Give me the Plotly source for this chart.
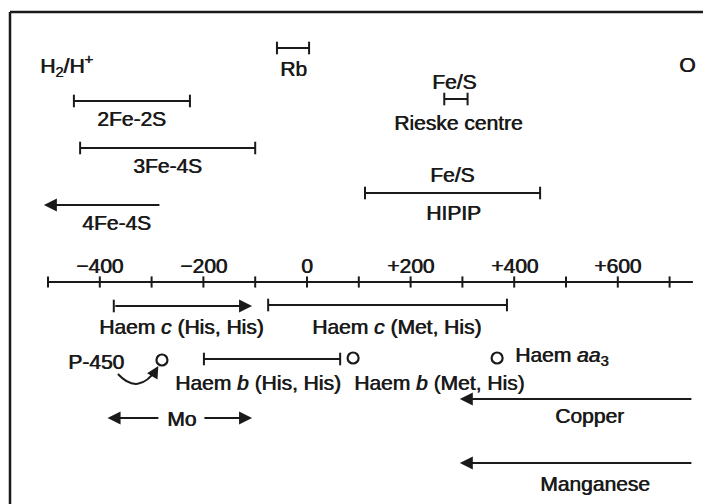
import plotly.graph_objects as go

# ---------------- data (mV) ----------------
tick_values = [-500, -400, -300, -200, -100, 0, 100, 200, 300, 400, 500, 600, 700]
label_values = [-400, -200, 0, 200, 400, 600]
label_texts = ["\u2212400", "\u2212200", "0", "+200", "+400", "+600"]
axis_start, axis_end = -500, 745

range_names = ["Rb", "2Fe-2S", "3Fe-4S", "Fe/S Rieske", "Fe/S HIPIP",
               "Haem c (Met, His)", "Haem b (His, His)"]
range_lo = [-58, -450, -438, 265, 112, -75, -199]
range_hi = [4, -226, -100, 310, 450, 386, 64]

arrow_names = ["4Fe-4S", "Haem c (His, His)", "Copper", "Manganese", "Mo low", "Mo high"]
arrow_from = [-282, -373, 745, 745, -284, -201]
arrow_to = [-508, -106, 295, 295, -385, -106]

point_names = ["P-450", "Haem b (His, His)", "Haem aa3"]
point_values = [-280, 89, 367]

# ---------------- layout positions (pixel rows) ----------------
range_rows = [48, 101, 148, 99, 193, 305, 359]
arrow_rows = [205, 306, 399, 463, 418, 418]
point_rows = [360, 358, 358]
axis_row = 282

INK = "#1a1a1a"
FONT = "Liberation Sans, Arial, sans-serif"
FS = 21
SHADOW = "0.7px 0 0 #1a1a1a"

# page has an 8px body margin; the figure is sized to fill the rest
OFF = 8
W, H = 711 - OFF, 504 - OFF

fig = go.Figure()

cap = dict(symbol="line-ns", size=9, color=INK, line=dict(color=INK, width=2))
tfont = dict(size=FS, color=INK, family=FONT, shadow=SHADOW)

# main axis line and ticks
fig.add_trace(go.Scatter(x=[axis_start, axis_end], y=[axis_row, axis_row], mode="lines",
                         line=dict(color=INK, width=2), hoverinfo="skip"))
fig.add_trace(go.Scatter(x=tick_values, y=[axis_row] * len(tick_values), mode="markers",
                         marker=dict(symbol="line-ns", size=8, color=INK, line=dict(color=INK, width=2)),
                         hoverinfo="skip"))
for v, t in zip(label_values, label_texts):
    fig.add_annotation(x=v, y=axis_row - 17, text=t, showarrow=False, font=tfont,
                       xanchor="center", yanchor="middle")

# range bars with end caps
for lo, hi, row in zip(range_lo, range_hi, range_rows):
    fig.add_trace(go.Scatter(x=[lo, hi], y=[row, row], mode="lines+markers",
                             line=dict(color=INK, width=2), marker=cap, hoverinfo="skip"))

# arrows
for a, b, row, name in zip(arrow_from, arrow_to, arrow_rows, arrow_names):
    fig.add_annotation(x=b, y=row, ax=a, ay=row, xref="x", yref="y", axref="x", ayref="y",
                       text="", showarrow=True, arrowhead=2, arrowsize=1.3, arrowwidth=2,
                       arrowcolor=INK, standoff=0, startstandoff=0)
    if name == "Haem c (His, His)":
        fig.add_trace(go.Scatter(x=[a], y=[row], mode="markers", marker=cap, hoverinfo="skip"))

# open circles
fig.add_trace(go.Scatter(x=point_values, y=point_rows, mode="markers",
                         marker=dict(symbol="circle-open", size=11, color=INK,
                                     line=dict(color=INK, width=2.2)),
                         hoverinfo="skip"))

# curved arrow P-450 -> circle
fig.add_shape(type="path", xref="x", yref="y",
              path="M -365,374 Q -326,396 -290,369",
              line=dict(color=INK, width=2))
fig.add_annotation(x=-287, y=366, ax=-296, ay=374, xref="x", yref="y", axref="x", ayref="y",
                   text="", showarrow=True, arrowhead=2, arrowsize=1.2, arrowwidth=2,
                   arrowcolor=INK, standoff=0)

# text labels
def label(x, y, text, anchor="center"):
    fig.add_annotation(x=x, y=y, text=text, showarrow=False, xanchor=anchor, yanchor="middle",
                       font=tfont)

label(-519, 65, "H<sub>2</sub>/H<sup>+</sup>", "left")
label(-27, 68, "Rb")
label(733, 64, "O")
label(-338, 118, "2Fe-2S")
label(-269, 165, "3Fe-4S")
label(-367, 222, "4Fe-4S")
label(284, 81, "Fe/S")
label(291, 122, "Rieske centre")
label(280, 174, "Fe/S")
label(283, 212, "HIPIP")
label(-243, 326, "Haem <i>c</i> (His, His)")
label(172, 326, "Haem <i>c</i> (Met, His)")
label(-407, 361, "P-450")
label(-259, 382, "Haem <i>b</i> (His, His)", "left")
label(87, 382, "Haem <i>b</i> (Met, His)", "left")
label(398, 356, "Haem <i>aa</i><sub>3</sub>", "left")
label(546, 415, "Copper")
label(556, 483, "Manganese")
label(-243, 418, "Mo")

# frame (top and left only), given in page pixels
fx = (10 - OFF) / W
fy = 1 - (12 - OFF) / H
fig.add_shape(type="line", xref="paper", yref="paper", x0=fx, x1=1, y0=fy, y1=fy,
              line=dict(color=INK, width=2.5))
fig.add_shape(type="line", xref="paper", yref="paper", x0=fx, x1=fx, y0=fy, y1=0,
              line=dict(color=INK, width=2.5))

px_per_mv = 0.518
zero_px = 307
fig.update_layout(
    width=W, height=H, margin=dict(l=0, r=0, t=0, b=0),
    paper_bgcolor="white", plot_bgcolor="white", showlegend=False,
    xaxis=dict(range=[(OFF - zero_px) / px_per_mv, (711 - zero_px) / px_per_mv],
               visible=False, fixedrange=True),
    yaxis=dict(range=[504, OFF], visible=False, fixedrange=True),
)

fig.write_html("out.html")
